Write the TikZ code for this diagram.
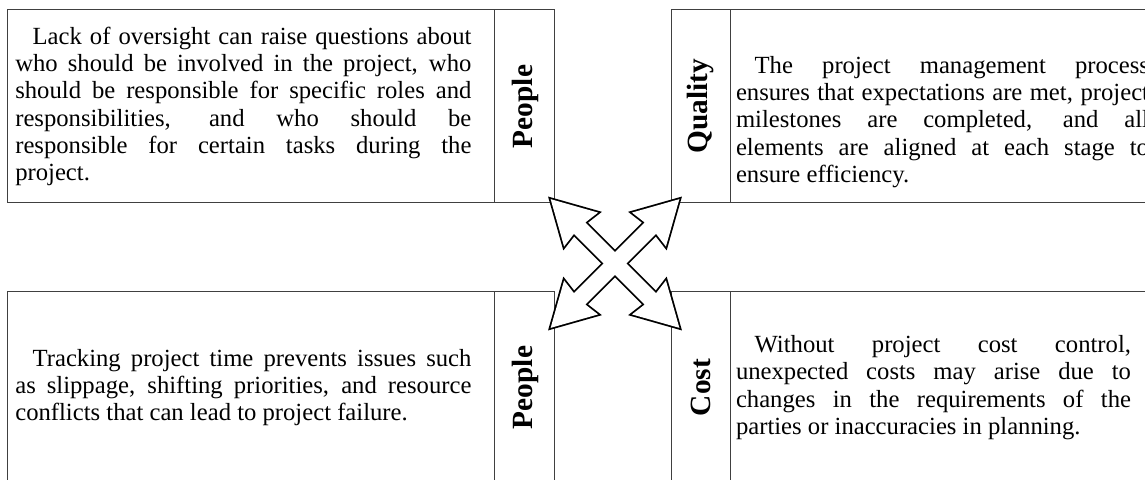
\documentclass[tikz,border=0pt]{standalone}
\usepackage{fontspec}
\setmainfont{Liberation Serif}
\usetikzlibrary{positioning}
\definecolor{rulegray}{HTML}{404040}

\newcommand\sidetag[1]{\rotatebox{90}{\fontsize{22}{24}\selectfont\bfseries #1}}

\tikzset{
  cell/.style={draw=rulegray, line width=0.75pt, outer sep=0pt, minimum height=144.75pt,
    align=justify, font=\fontsize{18.5}{20.45}\selectfont},
  trim/.style={execute at begin node={\rightskip=#1\relax}},
  tagbox/.style={draw=rulegray, line width=0.75pt, outer sep=0pt, inner sep=0pt,
    minimum height=144.75pt},
  blockline/.style={line width=2.7pt, line join=miter},
}

\begin{document}
\begin{tikzpicture}[x=0.75pt, y=0.75pt]
  \path[use as bounding box, clip] (0,0) rectangle (1145,479);

  % upper row
  \node[cell, text width=353.9pt, inner xsep=5.85pt, trim=11.8pt, anchor=north west]
    (tlText) at (7.5,469) {\hspace*{13pt}Lack of oversight can raise questions about\linebreak
    who should be involved in the project, who\linebreak
    should be responsible for specific roles and\linebreak
    responsibilities, and who should be\linebreak
    responsible for certain tasks during the\linebreak
    project.};
  \node[tagbox, minimum width=45pt, right=0pt of tlText] (tlTag) {\sidetag{People}};

  \node[tagbox, minimum width=44.25pt, anchor=north west] (trTag) at (671,469) {\sidetag{Quality}};
  \node[cell, text width=322.5pt, text height=36pt, inner xsep=4.5pt, trim=12.75pt, right=0pt of trTag]
    (trText) {\hspace*{14pt}The project management process\linebreak
    ensures that expectations are met, project\linebreak
    milestones are completed, and all\linebreak
    elements are aligned at each stage to\linebreak
    ensure efficiency.};

  % lower row
  \node[cell, text width=353.9pt, inner xsep=5.85pt, trim=11.8pt, anchor=north west]
    (blText) at (7.5,188) {\hspace*{13pt}Tracking project time prevents issues such\linebreak
    as slippage, shifting priorities, and resource\linebreak
    conflicts that can lead to project failure.};
  \node[tagbox, minimum width=45pt, right=0pt of blText] (blTag) {\sidetag{People}};

  \node[tagbox, minimum width=44.25pt, anchor=north west] (brTag) at (671,188) {\sidetag{Cost}};
  \node[cell, text width=322.5pt, inner xsep=4.5pt, trim=26.25pt, right=0pt of brTag]
    (brText) {\hspace*{14pt}Without project cost control,\linebreak
    unexpected costs may arise due to\linebreak
    changes in the requirements of the\linebreak
    parties or inaccuracies in planning.};

  % crossed block arrows
  \coordinate (hub) at (615,215.5);
  \foreach \a in {45,135}
    \draw[blockline, shift={(hub)}, rotate=\a]
      (91,0) -- (48,24) -- (50,8) -- (-50,8) -- (-48,24) -- (-91,0)
      -- (-48,-24) -- (-50,-8) -- (50,-8) -- (48,-24) -- cycle;
  \foreach \a in {45,135}
    \fill[white, shift={(hub)}, rotate=\a]
      (91,0) -- (48,24) -- (50,8) -- (-50,8) -- (-48,24) -- (-91,0)
      -- (-48,-24) -- (-50,-8) -- (50,-8) -- (48,-24) -- cycle;
\end{tikzpicture}
\end{document}
